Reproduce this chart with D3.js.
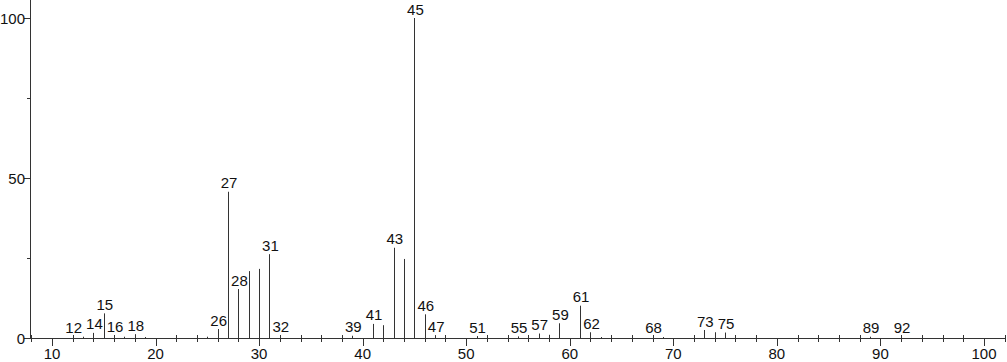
<!DOCTYPE html>
<html>
<head>
<meta charset="utf-8">
<script src="https://cdn.jsdelivr.net/npm/d3@7"></script>
<style>
  body { margin: 0; background: #fff; }
  svg { display: block; font-family: "Liberation Sans", Arial, sans-serif; }
  .peak { stroke: #333; stroke-width: 1; }
  .axis line, .axis path { stroke: #333; stroke-width: 1; }
</style>
</head>
<body>
<svg id="chart" width="1007" height="362"></svg>
<script>
// m/z values and relative intensities
var mz = [12, 13, 14, 15, 16, 17, 18, 19, 25, 26, 27, 28, 29, 30, 31, 32, 39, 41, 42, 43, 44, 45, 46, 47,
          51, 55, 57, 58, 59, 61, 62, 63, 68, 69, 73, 74, 75, 89, 92];
var intensity = [0.6, 0.4, 1.6, 7.7, 0.9, 0.4, 1.2, 0.3, 0.4, 2.8, 45.7, 15.3, 20.9, 21.6, 26.2, 0.9, 0.7, 4.4, 4.0, 28.2, 24.7, 100, 7.4, 0.9,
          0.6, 0.5, 1.4, 1.0, 4.6, 10.1, 1.8, 0.3, 0.4, 0.3, 2.5, 1.8, 1.7, 0.4, 0.6];
var labelled = [12, 14, 15, 16, 18, 26, 27, 28, 31, 32, 39, 41, 43, 45, 46, 47, 51, 55, 57, 59, 61, 62, 68, 73, 75, 89, 92];
var xTicks = [10, 20, 30, 40, 50, 60, 70, 80, 90, 100];
var yTicks = [0, 50, 100];

var peaks = mz.map(function(m, i) { return { mz: m, y: intensity[i] }; });

var svg = d3.select("#chart");
var x = d3.scaleLinear().domain([7.876, 102.03]).range([30, 1005]);
var y = d3.scaleLinear().domain([0, 100]).range([338, 18]);

function px(v) { return Math.round(v) + 0.5; }

// y axis
var gy = svg.append("g").attr("class", "axis");
gy.append("line").attr("x1", 30.5).attr("x2", 30.5).attr("y1", 0).attr("y2", 338.5);
gy.selectAll("line.minor").data([25, 75]).enter().append("line").attr("class", "minor")
    .attr("x1", 27).attr("x2", 30.5)
    .attr("y1", function(d) { return px(y(d)); })
    .attr("y2", function(d) { return px(y(d)); });
gy.selectAll("line.major").data(yTicks).enter().append("line").attr("class", "major")
    .attr("x1", 24).attr("x2", 30.5)
    .attr("y1", function(d) { return px(y(d)); })
    .attr("y2", function(d) { return px(y(d)); });
gy.selectAll("text").data(yTicks).enter().append("text")
    .attr("x", 25).attr("y", function(d) { return y(d) + 5.5; })
    .attr("text-anchor", "end").attr("font-size", 15).attr("fill", "#111")
    .text(function(d) { return d; });

// x axis
var gx = svg.append("g").attr("class", "axis");
gx.append("line").attr("x1", 30).attr("x2", 1005).attr("y1", 338.5).attr("y2", 338.5);
var minor = d3.range(8, 103, 2).filter(function(d) { return d % 10 != 0; });
gx.selectAll("line.minor").data(minor).enter().append("line").attr("class", "minor")
    .attr("x1", function(d) { return px(x(d)); })
    .attr("x2", function(d) { return px(x(d)); })
    .attr("y1", 335).attr("y2", 342);
gx.selectAll("line.major").data(xTicks).enter().append("line").attr("class", "major")
    .attr("x1", function(d) { return px(x(d)); })
    .attr("x2", function(d) { return px(x(d)); })
    .attr("y1", 338).attr("y2", 346);
gx.selectAll("text").data(xTicks).enter().append("text")
    .attr("x", function(d) { return x(d); }).attr("y", 359)
    .attr("text-anchor", "middle").attr("font-size", 15).attr("fill", "#111")
    .text(function(d) { return d; });

// peaks
svg.selectAll("line.peak").data(peaks).enter().append("line")
    .attr("class", "peak")
    .attr("x1", function(d) { return px(x(d.mz)); })
    .attr("x2", function(d) { return px(x(d.mz)); })
    .attr("y1", 338)
    .attr("y2", function(d) { return y(d.y); });

svg.selectAll("text.lab").data(peaks.filter(function(d) { return labelled.indexOf(d.mz) >= 0; }))
    .enter().append("text").attr("class", "lab")
    .attr("x", function(d) { return x(d.mz) + 1; })
    .attr("y", function(d) { return y(d.y) - 3.5; })
    .attr("text-anchor", "middle").attr("font-size", 15).attr("fill", "#111")
    .text(function(d) { return d.mz; });
</script>
</body>
</html>
